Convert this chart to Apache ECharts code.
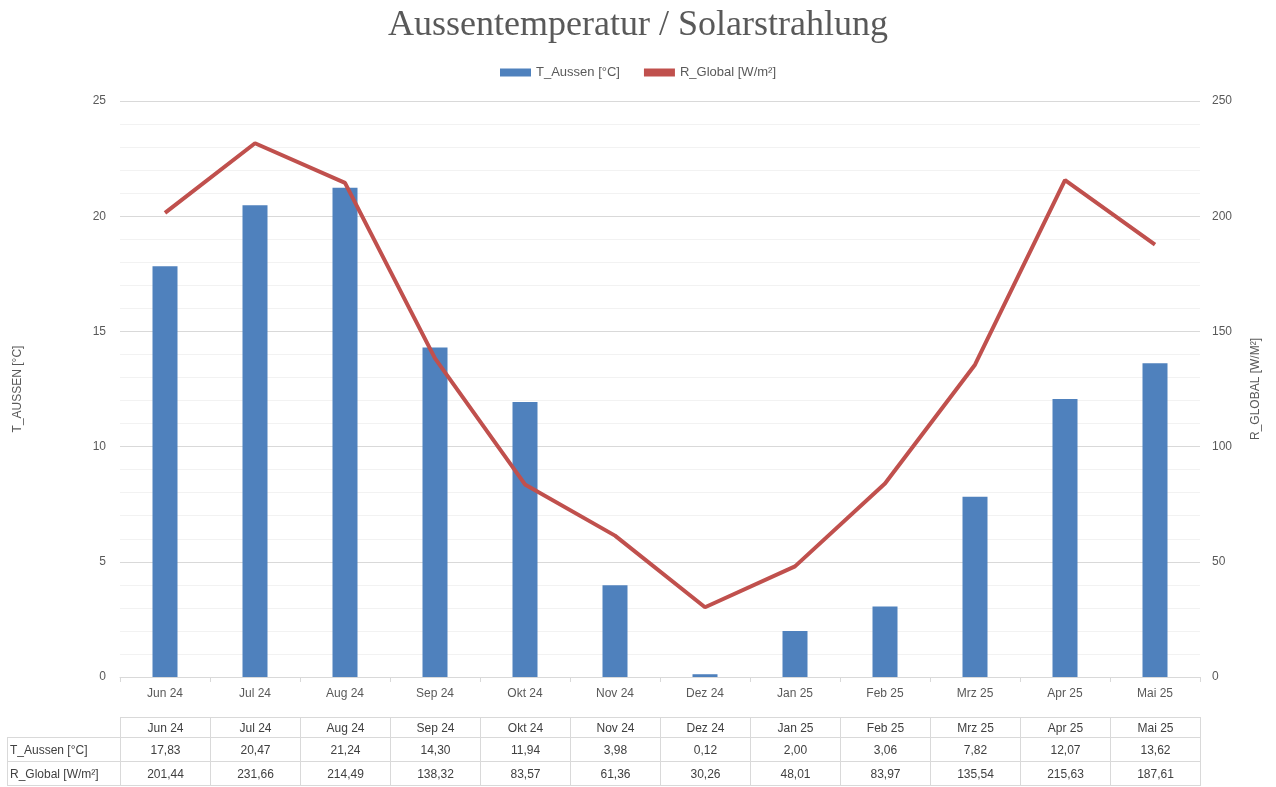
<!DOCTYPE html>
<html>
<head>
<meta charset="utf-8">
<script src="https://cdn.jsdelivr.net/npm/echarts@6/dist/echarts.min.js"></script>
<style>
  html, body { margin: 0; padding: 0; background: #fff; }
  #chart { width: 1276px; height: 787px; }
  #dataTable {
    position: absolute;
    left: 7px;
    top: 717px;
    border-collapse: collapse;
    font-family: "Liberation Sans", Arial, sans-serif;
    font-size: 12px;
    color: #404040;
    table-layout: fixed;
  }
  #dataTable td {
    border: 1px solid #d9d9d9;
    height: 23px;
    padding: 0;
    text-align: center;
    white-space: nowrap;
  }
  #dataTable tr:first-child td { height: 19px; }
  #dataTable td.lbl { text-align: left; padding-left: 2px; width: 110px; }
  #dataTable td.blank { border: none; border-right: 1px solid #d9d9d9; }
  #dataTable td.val { width: 89px; }
</style>
</head>
<body>
<div id="chart"></div>
<table id="dataTable"></table>
<script>
const months = ['Jun 24', 'Jul 24', 'Aug 24', 'Sep 24', 'Okt 24', 'Nov 24', 'Dez 24', 'Jan 25', 'Feb 25', 'Mrz 25', 'Apr 25', 'Mai 25']
const tAussen = [17.83, 20.47, 21.24, 14.30, 11.94, 3.98, 0.12, 2.00, 3.06, 7.82, 12.07, 13.62]
const rGlobal = [201.44, 231.66, 214.49, 138.32, 83.57, 61.36, 30.26, 48.01, 83.97, 135.54, 215.63, 187.61]
const seriesNames = ['T_Aussen [°C]', 'R_Global [W/m²]']

const textColor = '#595959'
const gridColor = '#d9d9d9'
const minorColor = '#f2f2f2'
const font = '"Liberation Sans", Arial, sans-serif'

const chart = echarts.init(document.getElementById('chart'))

const option = {
  animation: false,
  title: {
    text: 'Aussentemperatur / Solarstrahlung',
    left: 'center',
    top: 3,
    textStyle: { fontFamily: '"Liberation Serif", "DejaVu Serif", serif', fontSize: 36, fontWeight: 'normal', color: textColor }
  },
  legend: {
    top: 61,
    left: 'center',
    itemWidth: 31,
    itemHeight: 8,
    itemGap: 24,
    textStyle: { fontFamily: font, fontSize: 13, color: textColor },
    data: [
      { name: seriesNames[0], icon: 'rect' },
      { name: seriesNames[1], icon: 'rect', itemStyle: { color: '#c0504d' } }
    ]
  },
  grid: { left: 120, right: 76, top: 101, bottom: 110 },
  xAxis: {
    type: 'category',
    data: months,
    axisLine: { lineStyle: { color: gridColor } },
    axisTick: { show: true, length: 5, lineStyle: { color: gridColor } },
    axisLabel: { color: textColor, fontFamily: font, fontSize: 12, margin: 11 }
  },
  yAxis: [
    {
      type: 'value',
      min: 0, max: 25, interval: 5,
      name: 'T_AUSSEN [°C]',
      nameLocation: 'middle',
      nameGap: 96,
      nameRotate: 90,
      nameTextStyle: { color: textColor, fontFamily: font, fontSize: 12 },
      axisLine: { show: false },
      axisTick: { show: false },
      axisLabel: { color: textColor, fontFamily: font, fontSize: 12, margin: 14 },
      splitLine: { lineStyle: { color: gridColor } },
      minorTick: { show: false, splitNumber: 5 },
      minorSplitLine: { show: true, lineStyle: { color: minorColor } }
    },
    {
      type: 'value',
      min: 0, max: 250, interval: 50,
      name: 'R_GLOBAL [W/M²]',
      nameLocation: 'middle',
      nameGap: 50,
      nameRotate: 90,
      nameTextStyle: { color: textColor, fontFamily: font, fontSize: 12 },
      axisLine: { show: false },
      axisTick: { show: false },
      axisLabel: { color: textColor, fontFamily: font, fontSize: 12, margin: 12 },
      splitLine: { show: false }
    }
  ],
  series: [
    {
      name: seriesNames[0],
      type: 'bar',
      yAxisIndex: 0,
      barWidth: 25,
      itemStyle: { color: '#4f81bd' },
      data: tAussen
    },
    {
      name: seriesNames[1],
      type: 'line',
      yAxisIndex: 1,
      symbol: 'none',
      lineStyle: { color: '#c0504d', width: 4 },
      itemStyle: { color: '#c0504d' },
      z: 3,
      data: rGlobal
    }
  ]
}

chart.setOption(option)

// data table below the chart
const fmt = v => v.toFixed(2).replace('.', ',')
const table = document.getElementById('dataTable')
let html = '<tr><td class="lbl blank"></td>' + months.map(m => `<td class="val">${m}</td>`).join('') + '</tr>'
html += `<tr><td class="lbl">${seriesNames[0]}</td>` + tAussen.map(v => `<td class="val">${fmt(v)}</td>`).join('') + '</tr>'
html += `<tr><td class="lbl">${seriesNames[1]}</td>` + rGlobal.map(v => `<td class="val">${fmt(v)}</td>`).join('') + '</tr>'
table.innerHTML = html
</script>
</body>
</html>
